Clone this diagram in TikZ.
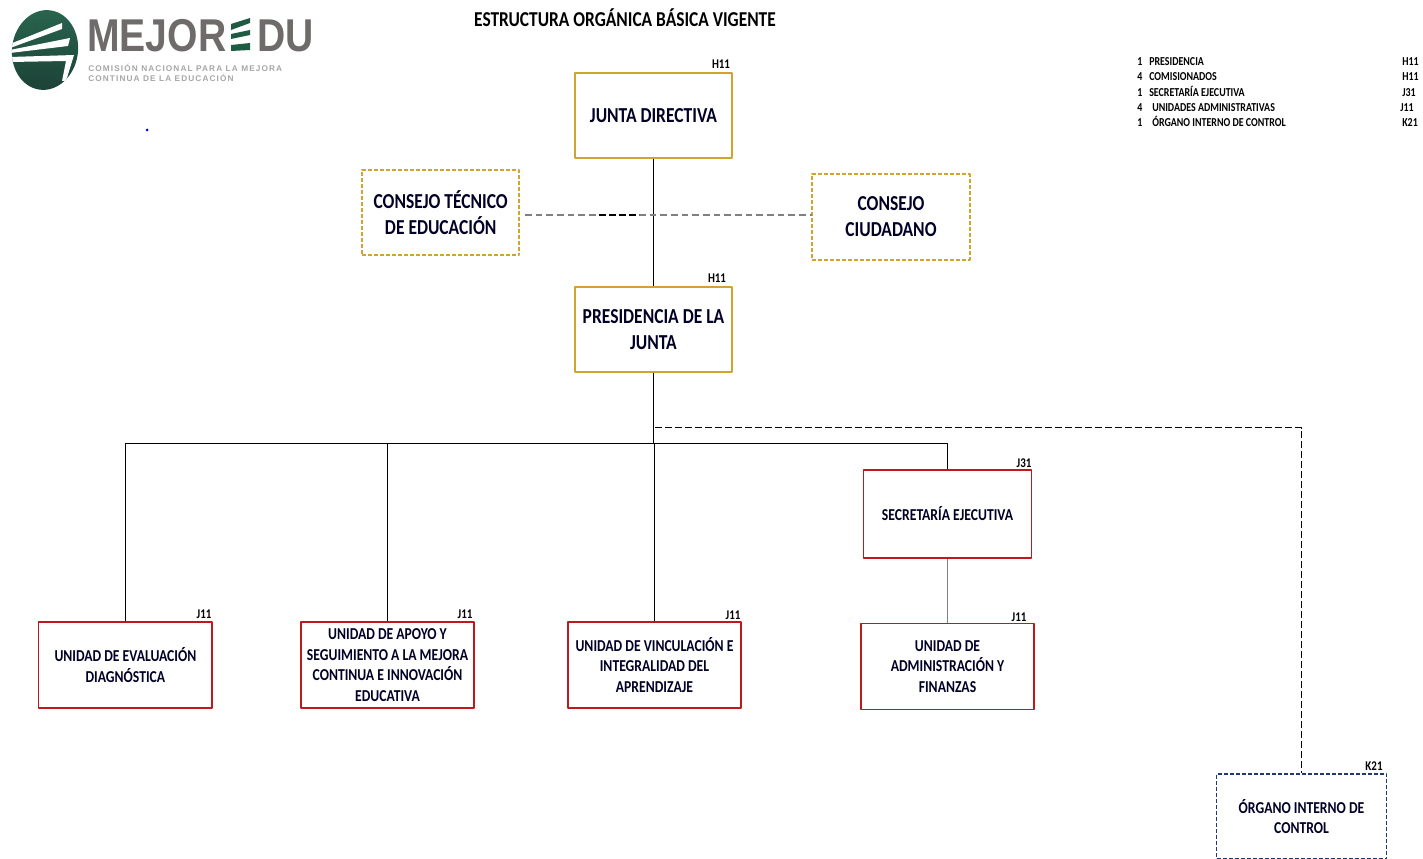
\documentclass[tikz,border=0pt]{standalone}
\usepackage{fontspec}
\setmainfont{Carlito}[FakeStretch=0.82]
\newfontfamily\logofont{Liberation Sans}
\newfontfamily\logosmall{Liberation Sans}[LetterSpace=13.5]
\definecolor{goldline}{HTML}{CFA52F}
\definecolor{redline}{HTML}{C0181F}
\definecolor{blueline}{HTML}{1F3A6E}
\definecolor{logogreen}{HTML}{2A6650}
\definecolor{logodark}{HTML}{1B4035}
\definecolor{stripegreen}{HTML}{1F5A42}
\definecolor{logogray}{HTML}{6E6B6A}
\tikzset{
	bigbox/.style={draw=goldline,line width=1.2pt,minimum width=118pt,minimum height=64pt,align=center,inner sep=1pt,font=\fontsize{16}{19.5}\selectfont\bfseries,text=black!85!blue},
	bigdash/.style={bigbox,line width=1.5pt,dash pattern=on 3pt off 1.5pt},
	redbox/.style={draw=redline,line width=1.1pt,minimum width=130pt,minimum height=64.5pt,align=center,inner sep=1pt,font=\fontsize{12.5}{15.4}\selectfont\bfseries,text=black!85!blue},
	orgbox/.style={redbox,draw=blueline,line width=1.4pt,dash pattern=on 3pt off 1.5pt},
	codetag/.style={font=\fontsize{10}{11}\selectfont\bfseries,inner sep=0pt},
	legend/.style={font=\fontsize{9.1}{10}\selectfont\bfseries,inner sep=0pt,anchor=base west},
	logotext/.style={font=\logofont\fontsize{34.5}{34.5}\selectfont\bfseries,text=logogray,inner sep=0pt,anchor=base west,xscale=0.85},
	logosub/.style={font=\logosmall\fontsize{6.2}{8}\selectfont\bfseries,text=black!35,inner sep=0pt,anchor=base west},
	link/.style={line width=1.1pt,black},
	softlink/.style={line width=1.3pt,black!50},
	softdash/.style={softlink,dash pattern=on 5pt off 3pt},
	dashlink/.style={line width=1.1pt,black,dash pattern=on 5pt off 2.5pt}
}
\begin{document}
\begin{tikzpicture}[x=0.75pt,y=-0.75pt,line join=round]
	\useasboundingbox (0,0) rectangle (1423,859);
	% logo
	\begin{scope}
	\clip[rotate around={-8:(45,50)}] (45,50) ellipse [x radius=33,y radius=40];
	\shade[top color=logogreen,bottom color=logodark] (0,5) rectangle (90,95);
	\fill[white] (10,44)--(62,23)--(62,29)--(10,48)--cycle;
	\fill[white] (10,50)--(70,38)--(68,46)--(10,53)--cycle;
	\fill[white] (10,57)--(74,55)--(66,81)--(62,81)--(66,61)--(10,62)--cycle;
	\end{scope}
	\node[logotext] (mejor) at (87,52) {MEJOR};
	\fill[stripegreen] (231,24)--(250,18)--(250,23)--(231,30)--cycle;
	\fill[stripegreen] (231,34)--(250,30)--(250,35)--(231,39)--cycle;
	\fill[stripegreen] (231,45)--(250,43)--(250,50)--(231,51)--cycle;
	\node[logotext] (du) at (257,52) {DU};
	\node[logosub] (comision) at (88,72) {COMISIÓN NACIONAL PARA LA MEJORA};
	\node[logosub] (continua) at (88,82) {CONTINUA DE LA EDUCACIÓN};
	\fill[blue!80!black] (147,130) circle (1.5);
	% title
	\node[font=\fontsize{15.9}{16}\selectfont\bfseries,inner sep=0pt] (titulo) at (625,18) {ESTRUCTURA ORGÁNICA BÁSICA VIGENTE};
	% legend
	\foreach \y/\n/\x/\t/\xc/\c in {66/1/1149/PRESIDENCIA/1402/H11,81/4/1149/COMISIONADOS/1402/H11,97/1/1149/SECRETARÍA EJECUTIVA/1402/J31,112/4/1152/UNIDADES ADMINISTRATIVAS/1400/J11,127/1/1152/ÓRGANO INTERNO DE CONTROL/1402/K21}{
		\node[legend] (num\y) at (1137,\y) {\n};
		\node[legend] (item\y) at (\x,\y) {\t};
		\node[legend] (code\y) at (\xc,\y) {\c};
	}
	% boxes
	\node[bigbox] (junta) at (653.5,115.5) {JUNTA DIRECTIVA};
	\node[bigdash] (tecnico) at (440.7,212.8) {CONSEJO TÉCNICO\\DE EDUCACIÓN};
	\node[bigdash] (ciudadano) at (891,217) {CONSEJO\\CIUDADANO};
	\node[bigbox] (presidencia) at (653.5,329.5) {PRESIDENCIA DE LA\\JUNTA};
	\node[redbox,minimum width=126pt,minimum height=66pt] (secretaria) at (947.5,514) {SECRETARÍA EJECUTIVA};
	\node[redbox] (evaluacion) at (125.4,665) {UNIDAD DE EVALUACIÓN\\DIAGNÓSTICA};
	\node[redbox] (apoyo) at (387.5,665) {UNIDAD DE APOYO Y\\SEGUIMIENTO A LA MEJORA\\CONTINUA E INNOVACIÓN\\EDUCATIVA};
	\node[redbox] (vinculacion) at (654.5,665) {UNIDAD DE VINCULACIÓN E\\INTEGRALIDAD DEL\\APRENDIZAJE};
	\node[redbox] (administracion) at (947.5,666.5) {UNIDAD DE\\ADMINISTRACIÓN Y\\FINANZAS};
	\node[orgbox,minimum width=127.5pt,minimum height=64pt] (organo) at (1301.5,816.5) {ÓRGANO INTERNO DE\\CONTROL};
	% level codes
	\foreach \p/\x/\y/\c in {junta/721/64/H11,presidencia/717/278/H11,secretaria/1024/463/J31,evaluacion/204/614/J11,apoyo/465/614/J11,vinculacion/733/615/J11,administracion/1019/617/J11,organo/1374/766/K21}
	\node[codetag] (tag\p) at (\x,\y) {\c};
	% connectors
	\coordinate (bus) at (653.5,443.5);
	\coordinate (orgstart) at (655,427.5);
	\coordinate (consejoL) at (525,215);
	\coordinate (consejoR) at (812,215);
	\coordinate (blackL) at (599,215);
	\coordinate (blackR) at (639,215);
	\draw[link] (junta.south)--(presidencia.north);
	\draw[link] (presidencia.south)--(bus);
	\draw[link] (evaluacion.north)|-(bus);
	\draw[link] (apoyo.north)|-(bus);
	\draw[link] (vinculacion.north)|-(bus);
	\draw[link] (secretaria.north)|-(bus);
	\draw[softlink] (secretaria.south)--(administracion.north);
	\draw[dashlink] (orgstart)-|(organo.north);
	\draw[softdash] (consejoL)--(blackL) (blackR)--(consejoR);
	\draw[dashlink] (blackL)--(blackR);
\end{tikzpicture}
\end{document}
